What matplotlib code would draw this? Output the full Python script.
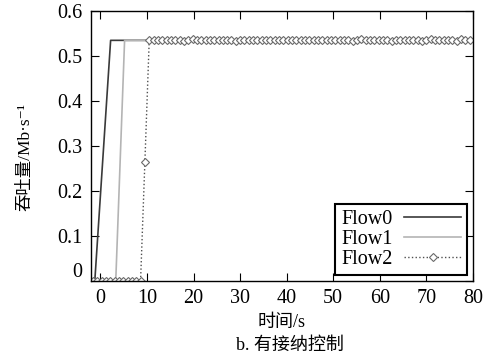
import numpy as np
import matplotlib
matplotlib.use('Agg')
import matplotlib.pyplot as plt
import matplotlib.transforms as mtransforms

plt.rcParams['font.family'] = ['Liberation Serif', 'Noto Sans CJK SC', 'DejaVu Serif']

# Flow0 / Flow1: ramp up then flat
t_flow0 = [-1.2, 2.2, 80]
v_flow0 = [0.0, 0.535, 0.535]
t_flow1 = [-1.2, 3.3, 5.2, 80]
v_flow1 = [0.0, 0.0, 0.535, 0.535]

# Flow2 sampled ~every 0.93 s, starting at -1.6 s
v_flow2 = [0.0, 0.0, 0.0, 0.0, 0.0, 0.0, 0.0, 0.0, 0.0, 0.0, 0.0, 0.0,
           0.265,
           0.535, 0.536, 0.535, 0.535, 0.536, 0.535, 0.535, 0.535, 0.534, 0.536,
           0.537, 0.535, 0.535, 0.536, 0.535, 0.535, 0.535, 0.535, 0.535, 0.536,
           0.534, 0.535, 0.536, 0.535, 0.535, 0.535, 0.535, 0.535, 0.535, 0.535,
           0.535, 0.535, 0.536, 0.535, 0.535, 0.535, 0.535, 0.535, 0.535, 0.535,
           0.535, 0.535, 0.535, 0.535, 0.535, 0.535, 0.535, 0.533, 0.536, 0.537,
           0.535, 0.535, 0.535, 0.535, 0.535, 0.535, 0.534, 0.536, 0.535, 0.535,
           0.535, 0.535, 0.535, 0.533, 0.536, 0.537, 0.535, 0.535, 0.535, 0.535,
           0.535, 0.534, 0.537, 0.535, 0.536]
t_flow2 = np.arange(len(v_flow2)) * 0.93 - 1.6

x_ticks = [0, 10, 20, 30, 40, 50, 60, 70, 80]
y_ticks = [0, 0.1, 0.2, 0.3, 0.4, 0.5, 0.6]
y_labels = ['0', '0.1', '0.2', '0.3', '0.4', '0.5', '0.6']

fig = plt.figure(figsize=(4.87, 3.58), dpi=100)
ax = fig.add_axes([0.187, 0.215, 0.784, 0.754])

ax.plot(t_flow0, v_flow0, color='#3a3a3a', lw=1.2, label='Flow0')
ax.plot(t_flow1, v_flow1, color='#b4b4b4', lw=1.2, label='Flow1')
ax.plot(t_flow2, v_flow2, color='#505050', lw=1.0, ls=':', marker='D',
        ms=3.6, mfc='white', mec='#6a6a6a', mew=0.8, label='Flow2')

ax.set_xlim(-2, 80)
ax.set_ylim(0, 0.6)
ax.set_xticks(x_ticks)
ax.set_yticks(y_ticks)
ax.set_yticklabels(y_labels)
ax.tick_params(direction='in', length=6, width=0.8, top=True, right=True,
               labelsize=14.5, pad=6)
for s in ax.spines.values():
    s.set_linewidth(1.0)

# the "0" label sits a little above its tick in the original
lab0 = ax.get_yticklabels()[0]
lab0.set_transform(lab0.get_transform() +
                   mtransforms.ScaledTranslation(0, 8 / 72, fig.dpi_scale_trans))

ax.set_xlabel('时间/s', fontsize=13, labelpad=4)
ax.set_ylabel('吞吐量/Mb·s\u207b\u00b9', fontsize=12.5)
ax.yaxis.set_label_coords(-0.152, 0.46)
fig.text(0.595, 0.012, 'b. 有接纳控制', ha='center', va='bottom', fontsize=13)

leg = ax.legend(loc='lower right', fontsize=14.5, handlelength=2.8,
                borderaxespad=0.3, fancybox=False, framealpha=1,
                labelspacing=0.05, borderpad=0.3, handletextpad=0.6,
                markerfirst=False)
leg.get_frame().set_edgecolor('black')
leg.get_frame().set_linewidth(1.5)

fig.savefig('out.png', dpi=100)
